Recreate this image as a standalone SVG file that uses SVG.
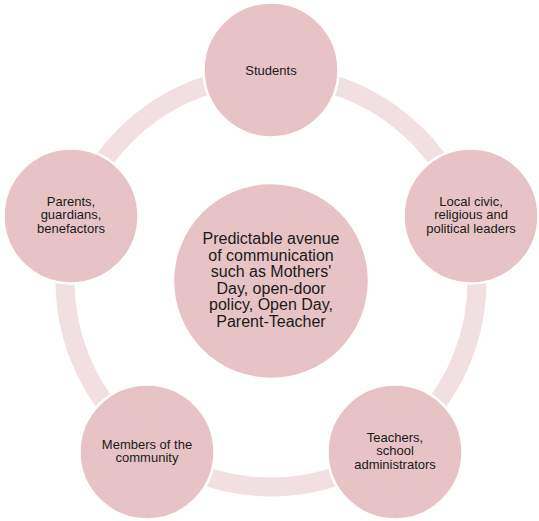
<svg xmlns="http://www.w3.org/2000/svg" width="539" height="521" viewBox="0 0 539 521">
<style>
.node{fill:#e8c3c6;stroke:#ffffff;stroke-width:2.5}
.ring{fill:none;stroke:#f2dfe1;stroke-width:19}
.t{font-family:"Liberation Sans",Arial,sans-serif;font-size:13px;fill:#1a1a1a;text-anchor:middle}
.tc{font-family:"Liberation Sans",Arial,sans-serif;font-size:16px;fill:#1a1a1a;text-anchor:middle}
</style>
<rect width="539" height="521" fill="#ffffff"/>
<g id="connectors">
<circle class="ring" cx="271" cy="281" r="206"/>
</g>
<g id="center">
<circle class="node" cx="271" cy="281" r="98"/>
<text class="tc" x="271" y="244">Predictable avenue</text>
<text class="tc" x="271" y="260.5">of communication</text>
<text class="tc" x="271" y="277">such as Mothers'</text>
<text class="tc" x="271" y="293.5">Day, open-door</text>
<text class="tc" x="271" y="310">policy, Open Day,</text>
<text class="tc" x="271" y="326.5">Parent-Teacher</text>
</g>
<g id="students">
<circle class="node" cx="271" cy="70" r="67.5"/>
<text class="t" x="271" y="74.5">Students</text>
</g>
<g id="local-leaders">
<circle class="node" cx="471" cy="216" r="67.5"/>
<text class="t" x="471" y="206">Local civic,</text>
<text class="t" x="471" y="219.3">religious and</text>
<text class="t" x="471" y="232.6">political leaders</text>
</g>
<g id="teachers">
<circle class="node" cx="395" cy="452" r="67.5"/>
<text class="t" x="395" y="442">Teachers,</text>
<text class="t" x="395" y="455.3">school</text>
<text class="t" x="395" y="468.6">administrators</text>
</g>
<g id="members">
<circle class="node" cx="147" cy="452" r="67.5"/>
<text class="t" x="147" y="448.8">Members of the</text>
<text class="t" x="147" y="462.1">community</text>
</g>
<g id="parents">
<circle class="node" cx="71" cy="216" r="67.5"/>
<text class="t" x="71" y="206">Parents,</text>
<text class="t" x="71" y="219.3">guardians,</text>
<text class="t" x="71" y="232.6">benefactors</text>
</g>
</svg>
